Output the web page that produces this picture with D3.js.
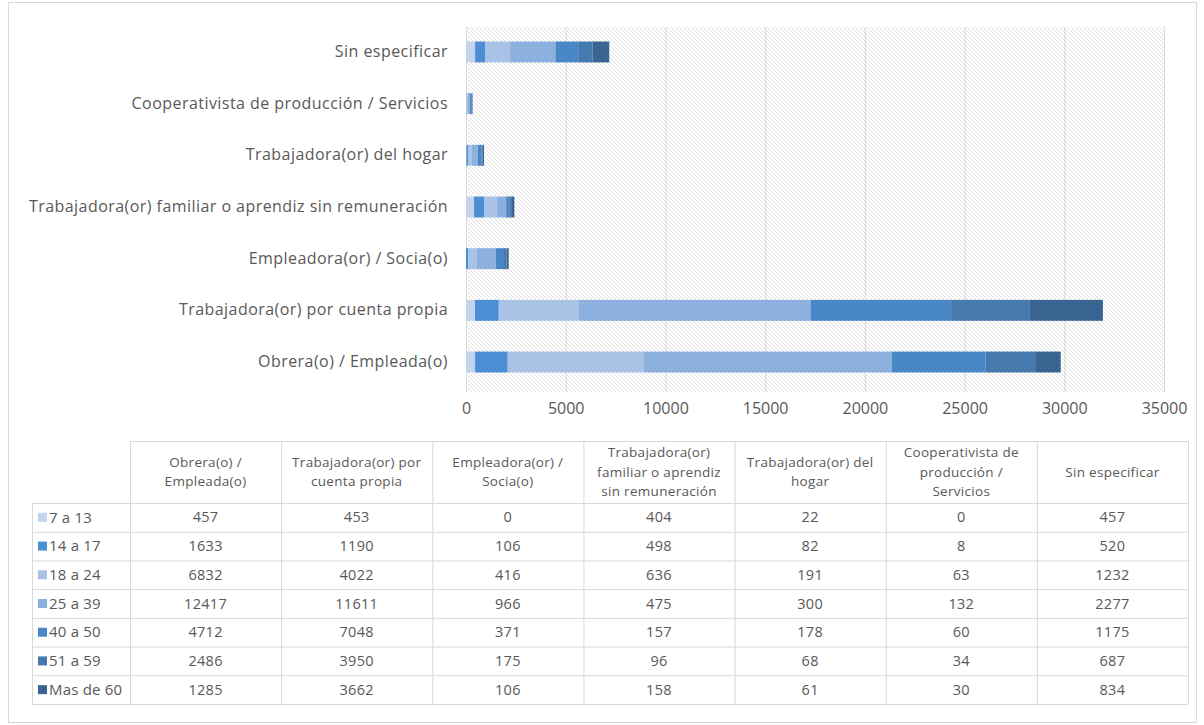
<!DOCTYPE html>
<html>
<head>
<meta charset="utf-8">
<script src="https://cdn.jsdelivr.net/npm/d3@7"></script>
<style>
  html, body { margin: 0; padding: 0; background: #fff; }
  svg { display: block; font-family: "Open Sans", "Noto Sans", sans-serif; }
</style>
</head>
<body>
<svg id="chart" width="1204" height="725"></svg>
<script>
// ---- Data ----
const categories = [
  "Obrera(o) / Empleada(o)",
  "Trabajadora(or) por cuenta propia",
  "Empleadora(or) / Socia(o)",
  "Trabajadora(or) familiar o aprendiz sin remuneración",
  "Trabajadora(or) del hogar",
  "Cooperativista de producción / Servicios",
  "Sin especificar"
];
const headerLines = [
  ["Obrera(o) /", "Empleada(o)"],
  ["Trabajadora(or) por", "cuenta propia"],
  ["Empleadora(or) /", "Socia(o)"],
  ["Trabajadora(or)", "familiar o aprendiz", "sin remuneración"],
  ["Trabajadora(or) del", "hogar"],
  ["Cooperativista de", "producción /", "Servicios"],
  ["Sin especificar"]
];
const ageGroups = ["7 a 13", "14 a 17", "18 a 24", "25 a 39", "40 a 50", "51 a 59", "Mas de 60"];
const age7to13   = [457, 453, 0, 404, 22, 0, 457];
const age14to17  = [1633, 1190, 106, 498, 82, 8, 520];
const age18to24  = [6832, 4022, 416, 636, 191, 63, 1232];
const age25to39  = [12417, 11611, 966, 475, 300, 132, 2277];
const age40to50  = [4712, 7048, 371, 157, 178, 60, 1175];
const age51to59  = [2486, 3950, 175, 96, 68, 34, 687];
const age60plus  = [1285, 3662, 106, 158, 61, 30, 834];
const seriesValues = [age7to13, age14to17, age18to24, age25to39, age40to50, age51to59, age60plus];
const xTicks = [0, 5000, 10000, 15000, 20000, 25000, 30000, 35000];
const colors = ["#c3d4ec", "#4b8ed4", "#a9c3e7", "#8db1df", "#4a87c6", "#4679ad", "#3a6593"];

// ---- Build table for stack ----
const rows = categories.map((c, i) => {
  const r = { category: c };
  ageGroups.forEach((g, j) => { r[g] = seriesValues[j][i]; });
  return r;
});
const stacked = d3.stack().keys(ageGroups)(rows);

const svg = d3.select("#chart");
const textColor = "#595959";
const gridColor = "#d9d9d9";
const FONT = '"Open Sans", sans-serif';

// outer frame
svg.append("rect").attr("x", 8.5).attr("y", 2.5).attr("width", 1188).attr("height", 720)
  .attr("fill", "#fff").attr("stroke", "#d9d9d9");

// ---- Scales ----
const plotLeft = 466, plotRight = 1164, plotTop = 27, plotBottom = 392;
const x = d3.scaleLinear().domain([0, 35000]).range([plotLeft, plotRight]);
const barOrder = categories.slice().reverse();
const y = d3.scaleBand().domain(barOrder).range([26, 388]).paddingInner(0.595).paddingOuter(0.3);

// hatch pattern
const defs = svg.append("defs");
const pat = defs.append("pattern").attr("id", "hatch").attr("patternUnits", "userSpaceOnUse")
  .attr("width", 4).attr("height", 4);
pat.append("rect").attr("width", 4).attr("height", 4).attr("fill", "#fff");
pat.append("path").attr("d", "M-1,-1 L5,5 M-1,3 L1,5 M3,-1 L5,1")
  .attr("stroke", "#dadada").attr("stroke-width", 0.9);

svg.append("rect").attr("x", plotLeft).attr("y", plotTop)
  .attr("width", plotRight - plotLeft).attr("height", plotBottom - plotTop)
  .attr("fill", "url(#hatch)");

// gridlines
const gridAxis = d3.axisBottom(x).tickValues(xTicks).tickSize(-(plotBottom - plotTop)).tickFormat("");
const grid = svg.append("g").attr("transform", `translate(0,${plotBottom})`).call(gridAxis);
grid.select(".domain").remove();
grid.selectAll("line").attr("stroke", gridColor).attr("stroke-width", 1);

// bars
svg.append("g").selectAll("g").data(stacked).join("g")
  .attr("fill", (d, i) => colors[i])
  .selectAll("rect").data(d => d).join("rect")
  .attr("x", d => x(d[0]))
  .attr("width", d => Math.max(0, x(d[1]) - x(d[0])))
  .attr("y", d => y(d.data.category))
  .attr("height", y.bandwidth());

// x axis labels
const xAxis = d3.axisBottom(x).tickValues(xTicks).tickSize(0).tickPadding(11).tickFormat(d3.format("d"));
const xg = svg.append("g").attr("transform", `translate(0,${plotBottom})`).call(xAxis);
xg.select(".domain").remove();
xg.selectAll("text").attr("fill", textColor).attr("font-size", 16).attr("font-family", FONT);

// y axis labels
const yAxis = d3.axisLeft(y).tickSize(0).tickPadding(18);
const yg = svg.append("g").attr("transform", `translate(${plotLeft},0)`).call(yAxis);
yg.select(".domain").remove();
yg.selectAll("text").attr("fill", textColor).attr("font-size", 16)
  .attr("letter-spacing", "0.45px").attr("font-family", FONT);

// ---- Data table ----
const colX = d3.scaleBand().domain(categories).range([130, 1188]);
const labelLeft = 32;
const headerTop = 441, headerBottom = 503;
const rowY = d3.scaleBand().domain(ageGroups).range([headerBottom, 704]);
const tbl = svg.append("g");
const lineColor = "#d9d9d9";

tbl.append("line").attr("x1", 130).attr("x2", 1188).attr("y1", headerTop + 0.5).attr("y2", headerTop + 0.5)
  .attr("stroke", lineColor);
categories.forEach(c => {
  tbl.append("line").attr("x1", colX(c) + 0.5).attr("x2", colX(c) + 0.5)
    .attr("y1", headerTop).attr("y2", 704).attr("stroke", lineColor);
});
tbl.append("line").attr("x1", 1188.5).attr("x2", 1188.5).attr("y1", headerTop).attr("y2", 704).attr("stroke", lineColor);
tbl.append("line").attr("x1", labelLeft + 0.5).attr("x2", labelLeft + 0.5).attr("y1", headerBottom).attr("y2", 704).attr("stroke", lineColor);
ageGroups.forEach(g => {
  tbl.append("line").attr("x1", labelLeft).attr("x2", 1188).attr("y1", rowY(g) + 0.5).attr("y2", rowY(g) + 0.5)
    .attr("stroke", lineColor);
});
tbl.append("line").attr("x1", labelLeft).attr("x2", 1188).attr("y1", 704.5).attr("y2", 704.5).attr("stroke", lineColor);

// header texts
categories.forEach((c, i) => {
  const lines = headerLines[i];
  const cx = colX(c) + colX.bandwidth() / 2;
  const mid = (headerTop + headerBottom) / 2;
  const lh = 19.5;
  const t = tbl.append("text").attr("text-anchor", "middle").attr("fill", textColor)
    .attr("font-size", 13.5).attr("letter-spacing", "0.3px").attr("font-family", FONT);
  lines.forEach((ln, k) => {
    t.append("tspan").attr("x", cx)
      .attr("y", mid + (k - (lines.length - 1) / 2) * lh)
      .attr("dy", "0.35em").text(ln);
  });
});

// row labels with legend keys and values
ageGroups.forEach((g, j) => {
  const yc = rowY(g) + rowY.bandwidth() / 2;
  tbl.append("rect").attr("x", 38).attr("y", yc - 4.5).attr("width", 9).attr("height", 9).attr("fill", colors[j]);
  tbl.append("text").attr("x", 49).attr("y", yc).attr("dy", "0.35em").attr("fill", textColor)
    .attr("font-size", 15).attr("letter-spacing", "0.2px").attr("font-family", FONT).text(g);
  categories.forEach((c, i) => {
    tbl.append("text").attr("x", colX(c) + colX.bandwidth() / 2).attr("y", yc).attr("dy", "0.35em")
      .attr("text-anchor", "middle").attr("fill", textColor)
      .attr("font-size", 14.5).attr("letter-spacing", "0.3px").attr("font-family", FONT)
      .text(seriesValues[j][i]);
  });
});
</script>
</body>
</html>
